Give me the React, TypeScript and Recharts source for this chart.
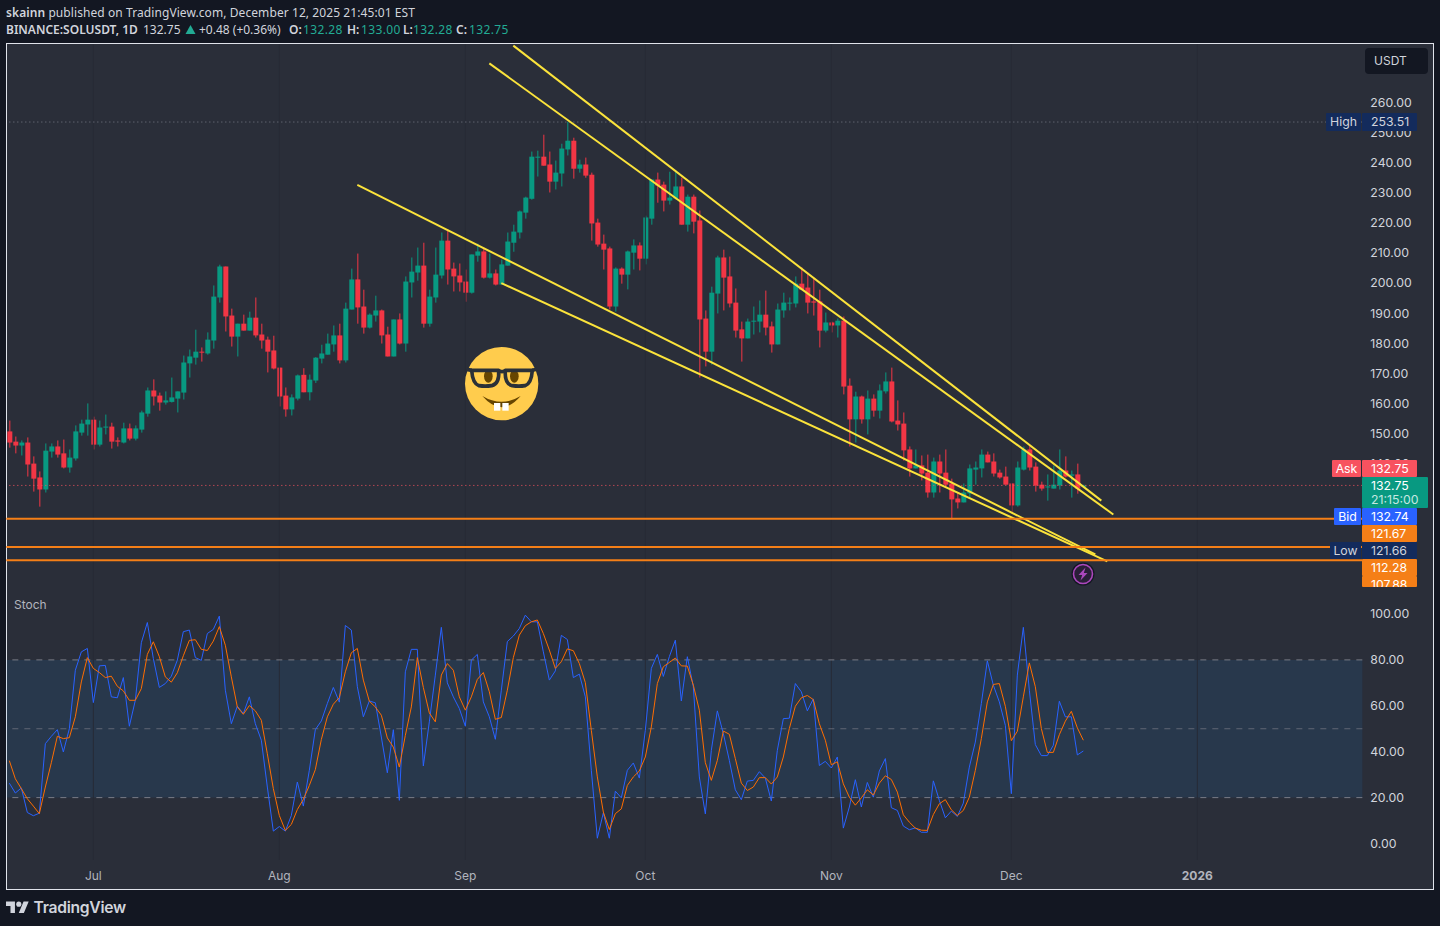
import React from "react";
import { ComposedChart, Bar, Line, XAxis, YAxis, ReferenceLine, ReferenceArea } from "recharts";

const opens = [150.7,147.3,146,147,140,135.4,131.4,144,145.7,143.4,
138.7,141.7,150.3,153,154.6,146.3,152,152.3,147.7,147,
151.7,148.3,151.3,156.6,164.3,162.6,160.3,160.5,161.6,163.6,
173.3,175.2,177.2,176.6,180.9,195.2,205.5,189.2,182.2,186.5,
184.2,188.5,182.9,181.2,177.6,171.9,162.6,158,161.6,169.5,
163.7,167.6,174.9,176.2,179.6,182.6,174.3,191.2,201.2,192.2,
185.2,189.2,190.9,182.9,175.6,187.9,179.9,200.2,203.5,205.8,
186.5,195.2,202.5,214.1,204.8,202.5,200.5,196.8,209.1,210.5,
201.8,203.2,199.5,205.8,213.4,216.8,223.4,228,241.7,242,
239.4,233.7,236.4,244.4,247.3,238,239.4,236,220.1,213.1,
211.5,192.2,204.8,202.8,210.1,212.5,208.1,221.4,234.4,232.7,
227.4,228.1,232.1,219.4,228.7,220.8,188.2,177.2,196.5,208.5,
202.2,193.5,184.6,181.6,187.2,187.2,189.5,185.6,179.6,190.9,
193.2,193.2,199.8,198.5,193.9,193.9,184.2,186.9,185.9,187.5,
165.9,154.7,162.3,154.7,161.6,157.6,164,167.3,154.3,153.3,
144.7,138.4,139.4,137,130.4,140.7,137,133.4,128.4,127.1,
130.1,138,138.4,143,140.7,137,135.7,133.4,126.1,138,
144.7,139,133,132.1,131.7,132.7,137.7,136,136.4,132.28];
const closes = [147,146,147,139.7,135,131.4,144.3,145.7,143,138.7,
142,150.7,153.3,154.6,146.3,152,152.3,147.3,147.3,151.7,
148.3,151.7,157,164.3,162.3,160.3,161,162,164,173.6,
175.6,177.2,176.9,181.2,195.5,205.5,188.9,182.2,186.5,184.2,
188.5,182.6,180.9,177.2,171.6,162.3,158,162,169.3,163.7,
167.9,175.2,176.6,179.9,182.6,174.3,191.5,201.2,191.9,185.2,
189.5,190.9,182.6,175.6,187.9,179.9,200.5,203.8,205.8,186.5,
195.5,202.8,214.1,204.5,202.2,200.2,196.8,209.5,210.5,201.8,
203.2,199.5,206.2,213.8,217.1,223.8,228.4,242,242,239,
233.7,236.7,244.7,247.3,238,239.4,235.7,219.8,212.8,211.1,
192.2,204.8,202.8,210.5,212.5,208.1,221.8,234.4,232.4,227.4,
228.4,232.1,219.4,228.7,220.4,187.9,177.2,196.8,208.5,201.8,
193.2,184.2,181.6,187.2,187.5,189.5,185.2,179.6,191.2,193.5,
193.5,199.8,197.8,193.5,193.5,184.2,186.9,185.9,187.5,165.6,
154.7,162.3,154.7,161.6,157.6,164.3,167.3,154,153,144.4,
138.4,139.4,136.7,130.4,140.7,136.7,133,128.1,127.1,130.4,
138.4,138.7,143,140.4,136.7,135.4,133,126.1,138.7,144.7,
138.7,132.7,131.7,132.4,133,137.7,135.7,136.4,131.7,132.75];
const highs = [154.3,149,147.7,148.7,142.4,137.4,146.7,146.7,147.7,148,
144.7,152.7,154.6,160,155.6,154.3,156.3,153.6,148.7,153.6,
153.3,152.7,157.6,165.3,168,163.6,164,168.6,164,175.9,
177.9,184.5,178.6,183.6,199.2,206.1,205.5,191.5,186.5,189.5,
190.5,195.2,186.5,182.2,182.5,171.9,165.3,163,169.6,171.7,
169.6,175.4,179.5,183.2,185.9,186.5,193.5,204.8,209.8,197.8,
189.9,195.8,191.2,185.5,187.9,189.9,202.2,208.5,211.8,213.4,
197.8,211.8,216.8,217.8,206.8,206.5,204.5,209.5,213.1,211.8,
209.8,204.5,207.8,216.8,219.4,224.1,228.7,243.7,244,249.3,
243.7,240.7,246.3,253.51,248.3,241,241.7,236.7,221.4,216.1,
212.1,205.2,205.2,210.8,214.5,213.5,222.4,234.4,236.7,233.7,
237,237.4,235,229.4,229.4,224.1,190.9,198.8,209.1,211.1,
208.8,198.2,187.2,188.2,192.2,194.2,197.5,187.2,193.2,196.8,
195.2,202.2,205.2,203.5,201.8,197.8,190.2,187.2,188.2,188.9,
168.3,163.9,162.6,164.3,163,166.3,170.3,171.9,161,157,
145.7,144.7,142.7,143,142,143,144.7,135,130.4,133.4,
139.7,140.7,144.7,144,143.4,138,139,133.4,140.7,145.7,
146.3,140.4,134,136.4,139.4,144.7,142.4,137.7,140,133];
const lows = [145.3,143.4,142.7,135.7,130.7,125.7,130.4,142,142,138.4,
137,141,149.3,149.3,144.7,145.7,149.7,145,145.7,146.7,
147.7,147.7,150.3,155.6,159.3,157.6,159.6,160.3,157,161.3,
168.6,172.9,173.9,176.2,178.2,193.5,183.9,178.9,175.6,184.2,
184.2,181.9,178.2,170.3,171.3,159,155.6,156,161,163.7,
161,166.8,173.3,176.2,177.2,173.3,173.6,191.2,186.5,183.2,
184.9,187.2,179.9,175.6,175.6,179.6,177.2,195.2,200.8,185.2,
185.5,193.5,201.5,199.5,197.2,197.2,193.8,196.5,207.1,201.5,
201.5,199.2,199.5,205.8,210.4,214.8,221.4,227.7,235.4,239,
230.1,231.1,232.1,242.4,234.7,236.7,235,214.1,212.1,204.5,
191.2,190.5,199.8,197.9,204.5,204.2,206.2,219.4,226.7,223.8,
226.1,227.8,219.4,217.1,216.5,168.6,172.3,172.9,189.9,190.9,
191.9,181.9,173.9,181.6,182.9,183.6,182.6,176.9,179.6,188.5,
190.9,191.9,197.8,189.9,189.2,178.6,183.6,183.6,181.9,163,
145.7,147,153.3,149.7,155.6,155,163.3,153.7,151,141,
135.7,138.4,134.4,128.7,128.7,130.4,132,121.4,125.1,127.1,
128.4,133,135.4,140.4,135.7,135,133,123.4,125.7,137.7,
137.7,130.7,131,127.7,131.7,131.4,135.4,128.7,130,132.28];

const stochK = [26.3,22,24.2,13.5,12.1,13.2,43.5,46.7,49.6,39.9,
50,75.5,83.5,85,61.4,77.4,77.6,63.9,63.5,72.3,
51.1,62.4,87.5,96.3,80.6,68,69.7,72.9,79.9,92.3,
93,81,79.8,91.5,93.3,99.1,66.8,52.2,59.8,56.6,
63.9,52.2,45,24.6,5.4,7.4,5.4,12.2,26.8,16.3,
31.9,49.6,53.4,61,68,61.6,95,93,68.3,
55.2,62.1,61.3,46.4,30.8,49.6,18.8,74.8,84.6,84.6,
33.8,53,73.4,94.2,70,63.9,58.8,51.1,79.9,82.4,
61.7,55.2,45.4,66.8,88,90.4,93.7,99.5,96.6,96.6,
83.5,71.2,75.2,90.7,88.9,72.3,73.8,63.9,31.9,2.3,
13.4,2.3,22.8,19.9,31.9,35.1,28.5,49.3,76.3,82.4,
72.8,81.4,88.6,62.1,81.4,68.3,29,12.9,40.6,57.8,
47.9,36.2,23.4,19.1,27.2,27.5,31.3,28.5,18.5,40.6,
54.4,54.6,69.7,66.1,57.8,63,34,35.8,32.9,37.7,
6.7,15.9,27.8,15.9,26.6,20.2,31.6,37,15.6,14.4,
7.6,6,6.8,4.9,4.9,27.3,18.8,11.2,14.1,11.8,
17.6,33.3,44.2,61,79.6,69,61.7,51.5,21.7,73.4,
94.2,66.8,43.1,38.3,38.3,42.8,62,55.2,55.2,38.6,
40.3];
const stochD = [36.1,28.2,23.9,19.5,16.3,13,24.6,35.2,46.7,45.7,
46.1,55.2,70.4,81,76.3,74.5,72.3,72.9,68.5,66.5,
62.4,62.4,67.5,82.4,87.9,81.4,72.6,70.3,74.4,81.8,
88.5,88.8,84.6,84.1,88.2,94.5,86.4,72.6,59.5,56.3,
60.1,57.8,53.7,39.1,23.9,12.2,5.7,8.3,14.8,19.2,
25.3,32.2,45.3,55.2,60.7,63.6,74.8,83.1,85,
71.2,62,59.5,55.9,46,42,33.3,47.1,59.5,81,
68,56.9,53,73.4,78.4,75.5,63.9,58.1,63.9,71.5,
74.5,66.1,54.1,54.9,66.8,81,90.8,94.9,96.6,97.4,
91.5,84.3,76.3,79.2,84.8,84,78.4,70.1,49.3,29,
13.7,6.1,13,15.1,25.3,29,31.6,37.7,50.8,69.7,
77,78.9,80.8,77.4,77.3,69,58.1,35.2,27.5,36.2,
49,47.6,37,26.3,23.1,24.6,28.7,28.7,25.9,29,
37.7,50.1,59.8,63.5,64.5,62.7,52.2,45,34.3,35.6,
26,20.2,16.7,19.9,23.4,21.1,26.3,29.5,27.9,22.4,
12.5,9.3,6.7,5.8,5.7,12.6,17.3,19.1,14.7,12.2,
14.4,20.2,31.9,45.7,61.7,69.3,69.7,59.8,44.8,48.9,
63.9,78.7,68.3,50.1,39.7,39.7,47.4,53.3,57.6,50.4,
45];

const priceTicks = [260,250,240,230,220,210,200,190,180,170,160,150,140];
const stochTicks = [100,80,60,40,20,0];
const monthTicks = ["2025-07-01","2025-08-01","2025-09-01","2025-10-01","2025-11-01","2025-12-01","2026-01-01"];
const monthNames = ["Jul","Aug","Sep","Oct","Nov","Dec","2026"];
const supportLevels = [121.67,112.28,107.88];
const trendLines = [
  [["2025-09-09",278.9],["2025-12-16",127.7]],
  [["2025-09-05",273],["2025-12-18",123.1]],
  [["2025-08-14",232.6],["2025-12-15",109.8]],
  [["2025-09-07",200],["2025-12-17",107.5]],
];

const START = Date.UTC(2025,5,17);
const rows = Array.from({length:226},(_,i)=>{
  const date = new Date(START+i*86400000).toISOString().slice(0,10);
  return i<opens.length ? {date,open:opens[i],close:closes[i],range:[lows[i],highs[i]],k:stochK[i],d:stochD[i]} : {date};
});

const GREEN="#089981", RED="#f23645", TEXT="#d1d4dc", TEAL="#22ab94";
const AXISFONT = "Inter, Roboto, sans-serif";
const HEADFONT = "'Noto Sans', sans-serif";

function Candle(props:any){
  const {x,y,width,height,payload}=props;
  if(!payload || payload.open===undefined) return null;
  const [lo,hi]=payload.range;
  const py=(v:number)=>y+(hi-v)/(hi-lo)*height;
  const color=payload.close>=payload.open?GREEN:RED;
  const top=py(Math.max(payload.open,payload.close));
  const bot=py(Math.min(payload.open,payload.close));
  const cx=x+width/2;
  return <g>
    <rect x={cx-0.5} y={y} width={1} height={height} fill={color}/>
    <rect x={x} y={top} width={width} height={Math.max(bot-top,1)} fill={color}/>
  </g>;
}

function MonthTick(props:any){
  const {x,y,payload}=props;
  const i=monthTicks.indexOf(payload.value);
  const year=monthNames[i]==="2026";
  return <text x={x} y={y} textAnchor="middle" dominantBaseline="central" fontFamily={AXISFONT} fontSize={12}
    fontWeight={year?700:400} fill="#b2b5be">{monthNames[i]}</text>;
}

function Tag({left,top,width,height,bg,color,children,align}:any){
  return <div style={{position:"absolute",left,top,width,height,background:bg,color:color||"#fff",fontFamily:AXISFONT,fontSize:12.3,
    lineHeight:"17px",textAlign:align||"left",paddingLeft:align?0:9,boxSizing:"border-box",overflow:"hidden",borderRadius:1}}>{children}</div>;
}

function Head({left,color,bold,children}:any){
  return <span style={{position:"absolute",left,top:21,fontFamily:HEADFONT,fontSize:12,lineHeight:"17px",color:color||TEXT,fontWeight:bold?600:400,whiteSpace:"nowrap",letterSpacing:color===TEAL?0.35:0}}>{children}</span>;
}

export default function App(){
  return <div style={{position:"absolute",left:0,top:0,width:1440,height:926,background:"#131722",overflow:"hidden"}}>
    <div style={{position:"absolute",left:6,top:4,fontFamily:HEADFONT,fontSize:12,letterSpacing:0.08,lineHeight:"17px",color:TEXT,whiteSpace:"nowrap"}}>
      <b style={{fontWeight:600}}>skainn</b> published on TradingView.com, December 12, 2025 21:45:01 EST
    </div>
    <Head left={6} bold>BINANCE:SOLUSDT, 1D</Head>
    <Head left={143}>132.75</Head>
    <svg style={{position:"absolute",left:185,top:24}} width={11} height={11} viewBox="0 0 11 11"><path d="M5.5 1 L10.5 10 L0.5 10 Z" fill={TEAL}/></svg>
    <Head left={199}>+0.48 (+0.36%)</Head>
    <Head left={289} bold>O:</Head><Head left={303} color={TEAL}>132.28</Head>
    <Head left={347} bold>H:</Head><Head left={361} color={TEAL}>133.00</Head>
    <Head left={403} bold>L:</Head><Head left={413} color={TEAL}>132.28</Head>
    <Head left={456} bold>C:</Head><Head left={469} color={TEAL}>132.75</Head>

    <div style={{position:"absolute",left:6,top:43,width:1428,height:847,boxSizing:"border-box",border:"1px solid #e0e3eb",background:"#2a2e39"}}/>

    <div style={{position:"absolute",left:0,top:44,width:1434,height:544}}>
      <ComposedChart width={1434} height={544} data={rows} margin={{top:0,right:0,bottom:0,left:6.33}} barCategoryGap={0}>
        <XAxis dataKey="date" hide scale="band" interval={0}/>
        <YAxis orientation="right" width={71.67} domain={[98.66,279.44]} allowDataOverflow ticks={priceTicks} interval={0}
          axisLine={false} tickLine={false} tickMargin={2} tickFormatter={(v:number)=>v.toFixed(2)}
          tick={{fontFamily:AXISFONT,fontSize:12.3,fill:TEXT,textAnchor:"start"}}/>
        {monthTicks.map(m=><ReferenceLine key={m} x={m} stroke="#272b35" strokeWidth={1}/>)}
        <ReferenceLine y={253.51} stroke="#787b86" strokeDasharray="1 3"/>
        <ReferenceLine y={132.75} stroke="#f7525f" strokeDasharray="1 3"/>
        {trendLines.map((t,i)=><ReferenceLine key={i} segment={[{x:t[0][0],y:t[0][1]},{x:t[1][0],y:t[1][1]}]} stroke="#fbe33b" strokeWidth={2}/>)}
        <Bar dataKey="range" barSize={5} shape={<Candle/>} isAnimationActive={false}/>
        {supportLevels.map(v=><ReferenceLine key={v} y={v} stroke="#f57f17" strokeWidth={2}/>)}
      </ComposedChart>
    </div>

    <div style={{position:"absolute",left:0,top:588,width:1434,height:300}}>
      <ComposedChart width={1434} height={300} data={rows} margin={{top:0,right:0,bottom:0,left:6.33}}>
        <XAxis dataKey="date" scale="band" height={28} ticks={monthTicks} interval={0} axisLine={false} tickLine={false} tickMargin={9} tick={<MonthTick/>}/>
        <YAxis orientation="right" width={71.67} domain={[-7.19,111.33]} allowDataOverflow ticks={stochTicks} interval={0}
          axisLine={false} tickLine={false} tickMargin={2} tickFormatter={(v:number)=>v.toFixed(2)}
          tick={{fontFamily:AXISFONT,fontSize:12.3,fill:TEXT,textAnchor:"start"}}/>
        <ReferenceArea y1={20} y2={80} fill="#2196f3" fillOpacity={0.1} stroke="none"/>
        {monthTicks.map(m=><ReferenceLine key={m} x={m} stroke="#272b35" strokeWidth={1}/>)}
        <ReferenceLine y={80} stroke="#787b86" strokeDasharray="6 6"/>
        <ReferenceLine y={50} stroke="#787b86" strokeOpacity={0.7} strokeDasharray="6 6"/>
        <ReferenceLine y={20} stroke="#787b86" strokeDasharray="6 6"/>
        <Line dataKey="k" stroke="#2962ff" strokeWidth={1} dot={false} isAnimationActive={false}/>
        <Line dataKey="d" stroke="#ff6d00" strokeWidth={1} dot={false} isAnimationActive={false}/>
      </ComposedChart>
    </div>

    <div style={{position:"absolute",left:14,top:596,fontFamily:AXISFONT,fontSize:12,lineHeight:"17px",color:"#b2b5be"}}>Stoch</div>

    <div style={{position:"absolute",left:1365,top:48,width:63,height:26,background:"#131722",borderRadius:4,color:TEXT,fontFamily:AXISFONT,fontSize:12,lineHeight:"26px",paddingLeft:9,boxSizing:"border-box"}}>USDT</div>

    <Tag left={1326} top={113} width={35} height={18} bg="#132b5c" color={TEXT} align="center">High</Tag>
    <Tag left={1362} top={113} width={55} height={18} bg="#132b5c" color={TEXT}>253.51</Tag>
    <Tag left={1332} top={460} width={29} height={17} bg="#f7525f" align="center">Ask</Tag>
    <Tag left={1362} top={460} width={55} height={17} bg="#f7525f">132.75</Tag>
    <div style={{position:"absolute",left:1362,top:477,width:66,height:31,background:GREEN,borderRadius:1,color:"#fff",fontFamily:AXISFONT,fontSize:12.3,lineHeight:"14px",paddingLeft:9,paddingTop:2,boxSizing:"border-box"}}>
      132.75<br/><span style={{color:"#c5e8e1"}}>21:15:00</span>
    </div>
    <Tag left={1334} top={508} width={27} height={17} bg="#2962ff" align="center">Bid</Tag>
    <Tag left={1362} top={508} width={55} height={17} bg="#2962ff">132.74</Tag>
    <Tag left={1362} top={525} width={55} height={17} bg="#f57f17">121.67</Tag>
    <Tag left={1330} top={542} width={31} height={17} bg="#132b5c" color={TEXT} align="center">Low</Tag>
    <Tag left={1362} top={542} width={55} height={17} bg="#132b5c" color={TEXT}>121.66</Tag>
    <Tag left={1362} top={559} width={55} height={17} bg="#f57f17">112.28</Tag>
    <Tag left={1362} top={576} width={55} height={11} bg="#f57f17">107.88</Tag>

    <svg style={{position:"absolute",left:455,top:341}} width={95} height={90} viewBox="0 0 285 270">
      <circle cx={140} cy={128} r={110} fill="#ffcc4d"/>
      <ellipse cx={100} cy={106} rx={13} ry={19} fill="#664500"/>
      <ellipse cx={178} cy={106} rx={13} ry={19} fill="#664500"/>
      <path d="M50 88 L131 88 Q134 128 110 134 Q90 137 72 134 Q53 128 50 88 Z" fill="none" stroke="#2a3038" strokeWidth={11} strokeLinejoin="round"/>
      <path d="M151 88 L232 88 Q229 128 210 134 Q192 137 172 134 Q148 128 151 88 Z" fill="none" stroke="#2a3038" strokeWidth={11} strokeLinejoin="round"/>
      <path d="M36 85 L50 88 M131 88 Q141 96 151 88 M232 88 L245 85" stroke="#2a3038" strokeWidth={11} fill="none"/>
      <path d="M82 165 Q140 200 197 165 Q140 232 82 165 Z" fill="#664500"/>
      <rect x={117} y={186} width={19} height={23} fill="#fff"/>
      <rect x={142} y={186} width={19} height={23} fill="#fff"/>
    </svg>

    <svg style={{position:"absolute",left:1071,top:562}} width={24} height={24} viewBox="0 0 24 24">
      <circle cx={12} cy={12} r={11.5} fill="#131722"/>
      <circle cx={12} cy={12} r={9.5} fill="#2a1f38" stroke="#ab47bc" strokeWidth={1.6}/>
      <path d="M14.5 5.5 L7.5 13 L11.2 13 L9.5 18.5 L16.5 11 L12.8 11 Z" fill="#ab47bc"/>
    </svg>

    <svg style={{position:"absolute",left:6,top:899}} width={23} height={18} viewBox="0 0 36 28">
      <path d="M14 22H7V11H0V4h14v18zM28 22h-8l7.5-18h8L28 22z" fill={TEXT}/>
      <circle cx={20} cy={8} r={4} fill={TEXT}/>
    </svg>
    <div style={{position:"absolute",left:33.5,top:897,fontFamily:"Inter, sans-serif",fontWeight:600,fontSize:15.7,lineHeight:"22px",color:TEXT,letterSpacing:-0.3}}>TradingView</div>
  </div>;
}
